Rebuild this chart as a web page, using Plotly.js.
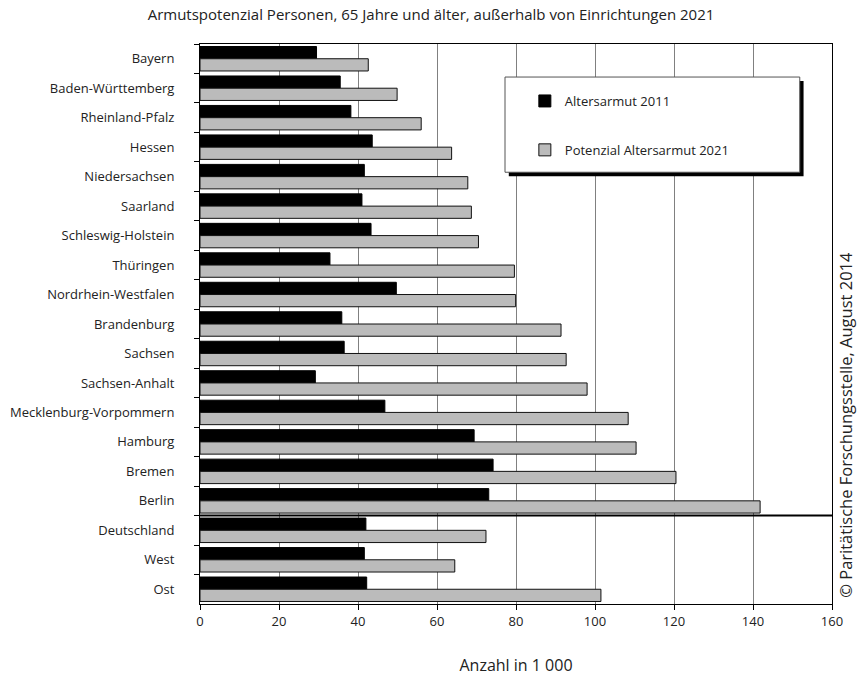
<!DOCTYPE html>
<html>
<head>
<meta charset="utf-8">
<script src="https://cdn.plot.ly/plotly-3.0.1.min.js"></script>
<style>html,body{margin:0;padding:0;background:#fff;}#chart{width:859px;height:679px;}</style>
</head>
<body>
<div id="chart"></div>
<script>
const categories = ["Bayern","Baden-Württemberg","Rheinland-Pfalz","Hessen","Niedersachsen","Saarland","Schleswig-Holstein","Thüringen","Nordrhein-Westfalen","Brandenburg","Sachsen","Sachsen-Anhalt","Mecklenburg-Vorpommern","Hamburg","Bremen","Berlin","Deutschland","West","Ost"];
const altersarmut2011 = [29.5,35.5,38.2,43.6,41.6,41.0,43.3,32.9,49.7,35.9,36.5,29.2,46.8,69.4,74.2,73.1,42.0,41.6,42.2];
const potenzial2021 = [42.6,49.9,56.0,63.7,67.8,68.7,70.5,79.6,79.9,91.4,92.7,98.0,108.4,110.4,120.5,141.8,72.4,64.5,101.5];
const seriesNames = ["Altersarmut 2011","Potenzial Altersarmut 2021"];
const xTicks = [0,20,40,60,80,100,120,140,160];

const FONT = "Open Sans, Noto Sans, sans-serif";
const traces = [
  {type:"bar", orientation:"h", name:seriesNames[0], y:categories, x:altersarmut2011,
   marker:{color:"#000000", line:{color:"#000000", width:1}}, legendgroup:"a"},
  {type:"bar", orientation:"h", name:seriesNames[1], y:categories, x:potenzial2021,
   marker:{color:"#bbbbbb", line:{color:"#111111", width:1}}, legendgroup:"b"}
];

const layout = {
  width:859, height:679,
  margin:{l:200, r:27, t:44, b:75},
  paper_bgcolor:"#ffffff", plot_bgcolor:"#ffffff",
  font:{family:FONT, size:13, color:"#222"},
  barmode:"group", bargap:0.17, bargroupgap:0,
  title:{text:"Armutspotenzial Personen, 65 Jahre und älter, außerhalb von Einrichtungen 2021",
         x:431/859, xref:"container", xanchor:"center", y:0.979, yanchor:"middle",
         font:{family:FONT, size:15, color:"#222"}},
  xaxis:{range:[0,160], tickvals:xTicks, ticktext:xTicks.map(String),
         showgrid:true, gridcolor:"#808080", gridwidth:1,
         showline:true, linecolor:"#000", linewidth:1, mirror:true,
         ticks:"outside", ticklen:5, tickcolor:"#000",
         tickfont:{family:FONT, size:13, color:"#222"},
         zeroline:false, fixedrange:true,
         title:{text:"Anzahl in 1 000", standoff:31, font:{family:FONT, size:16, color:"#222"}}},
  yaxis:{type:"category", autorange:"reversed", tickson:"boundaries",
         ticks:"outside", ticklen:5, tickcolor:"#000",
         showline:true, linecolor:"#000", linewidth:1, mirror:true,
         showgrid:false, ticklabelstandoff:22,
         tickfont:{family:FONT, size:13, color:"#222"}, fixedrange:true},
  showlegend:true,
  legend:{x:0.514, y:0.925, xanchor:"left", yanchor:"top", bgcolor:"rgba(0,0,0,0)",
          borderwidth:0, traceorder:"grouped", tracegroupgap:29, itemwidth:30,
          font:{family:FONT, size:13, color:"#222"}},
  shapes:[
    {type:"rect", xref:"paper", yref:"paper", x0:0.4826+0.006, x1:0.949+0.006, y0:0.771-0.007, y1:0.941-0.007,
     fillcolor:"#000", line:{width:0}, layer:"above"},
    {type:"rect", xref:"paper", yref:"paper", x0:0.4826, x1:0.949, y0:0.771, y1:0.941,
     fillcolor:"#fff", line:{color:"#555", width:1}, layer:"above"},
    {type:"line", xref:"paper", yref:"y", x0:0, x1:1, y0:15.5, y1:15.5,
     line:{color:"#000", width:2}, layer:"above"}
  ],
  annotations:[
    {text:"© Paritätische Forschungsstelle, August 2014", xref:"paper", yref:"paper",
     x:(846-200)/632, y:0.32, textangle:-90, showarrow:false, xanchor:"center", yanchor:"middle",
     font:{family:FONT, size:16.5, color:"#222"}}
  ]
};

Plotly.newPlot("chart", traces, layout, {displayModeBar:false, staticPlot:true});
</script>
</body>
</html>
